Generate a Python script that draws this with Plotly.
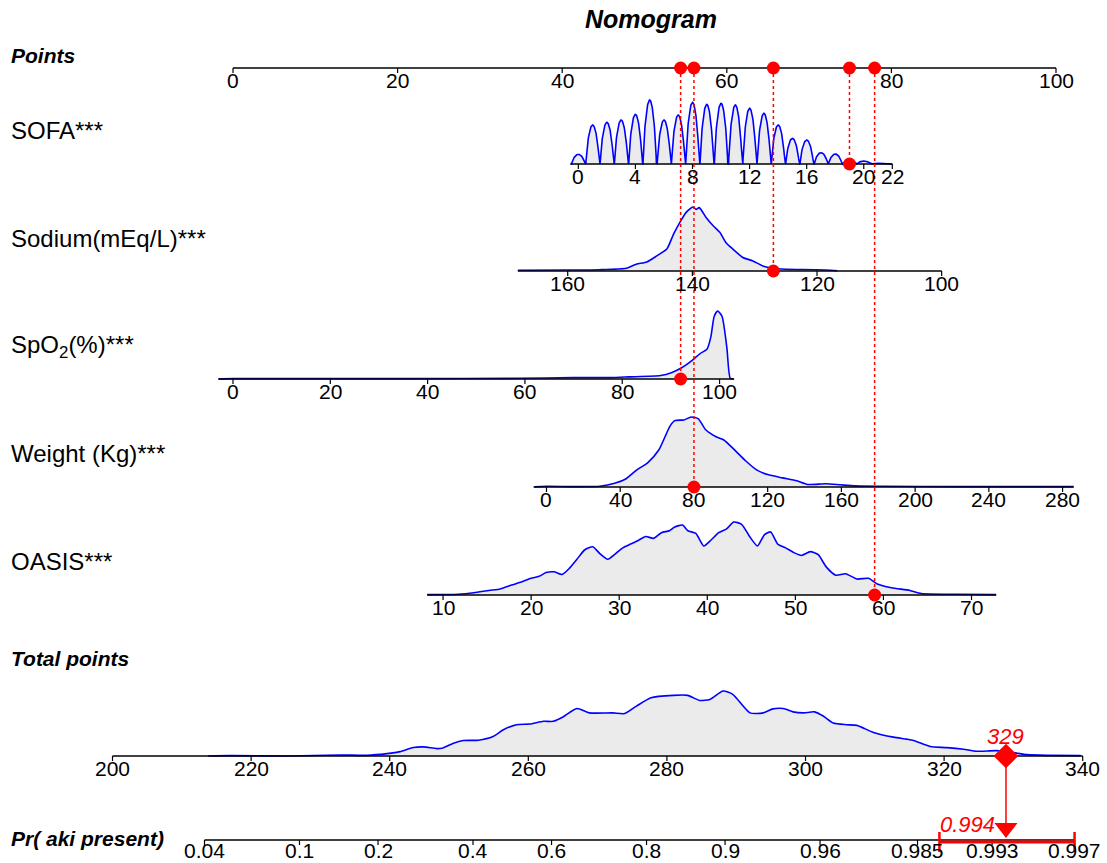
import numpy as np
import plotly.graph_objects as go

# ---------------- data ----------------
points_ticks = [0, 20, 40, 60, 80, 100]

sofa_levels = list(range(0, 22))
sofa_freq = [29, 117, 125, 132, 149, 192, 132, 147, 185, 179, 182, 177, 167, 152,
             117, 77, 72, 34, 30, 12, 9, 2]
sofa_ticks = [0, 4, 8, 12, 16, 20, 22]

sodium_x = [168, 160, 155, 150.6, 149, 147.3, 145.7, 144.1, 143, 142, 141, 139.9,
            139.4, 138.9, 137.8, 136.7, 135.6, 134.6, 133.5, 131.9, 130.3, 128.7,
            127.1, 125, 120, 116.7]
sodium_d = [0.7, 1, 1.3, 2.7, 6.7, 9, 15, 21.7, 36.7, 48, 58, 63.3, 61, 62.7, 53, 45,
            38.3, 28, 21.7, 13.3, 10, 5, 2.7, 1.7, 1.3, 0.3]
sodium_ticks = [160, 140, 120, 100]

spo2_x = [-3, 0, 37, 59, 70, 77.6, 81.3, 87.9, 90.1, 92.3, 94.5, 96, 97.4, 98.2,
          98.9, 99.6, 100.5, 101.5, 102.2, 102.9]
spo2_d = [0, 1, 1, 2, 4, 4, 6, 10, 18, 33, 55, 73, 85, 120, 180, 195, 180, 90, 2, 0]
spo2_ticks = [0, 20, 40, 60, 80, 100]

weight_x = [-6.5, 0, 15, 29, 37, 43, 49, 55, 61, 67, 69.6, 74.5, 78.5, 82.4, 86.4,
            92.3, 96.2, 102, 108, 114, 120, 128, 135.8, 141.7, 151.6, 159.5, 167.4,
            183, 222.7, 286]
weight_d = [0.3, 2, 1, 2, 10, 22, 47, 67, 102, 167, 182, 184, 192, 187, 157, 137,
            129, 102, 72, 47, 34, 25, 17, 7, 9, 6, 3, 2, 1, 1]
weight_ticks = [0, 40, 80, 120, 160, 200, 240, 280]

oasis_x = [8.2, 11.7, 13.5, 15.2, 16.5, 17.8, 19.1, 20, 20.9, 21.7, 22.6, 23.5, 24.3,
           25.2, 26.1, 27, 27.8, 28.7, 29.6, 30.4, 31.3, 32.2, 33, 33.9, 34.8, 35.7,
           36.3, 37.2, 37.8, 38.7, 39.6, 40.4, 41.3, 42.2, 43, 43.9, 44.8, 45.7,
           46.5, 47.2, 48, 48.9, 49.8, 50.7, 51.7, 52.6, 53.5, 54.6, 55.7, 57, 58.3,
           59.3, 60.9, 63, 64.3, 68.3, 72.8]
oasis_d = [1, 2, 6, 12, 16, 26, 36, 44, 49, 59, 61, 54, 69, 94, 119, 127, 109, 94,
           109, 124, 134, 144, 154, 149, 164, 169, 179, 184, 169, 162, 129, 144, 164,
           174, 192, 186, 154, 129, 159, 166, 134, 124, 112, 104, 114, 106, 74, 52,
           56, 42, 44, 29, 19, 12, 4, 2, 1]
oasis_ticks = [10, 20, 30, 40, 50, 60, 70]

total_x = [213.8, 217, 225.6, 232.8, 236.7, 239.6, 241.5, 243.4, 244.9, 246.8, 247.7,
           249.2, 250.6, 252.8, 254.9, 256.4, 258.3, 260.2, 262.2, 263.6, 265, 267,
           268.8, 272.2, 273.9, 275.6, 277.7, 280.9, 283, 284.7, 286.2, 288.1, 289.5,
           292, 293.9, 295.3, 296.8, 298.2, 299.7, 301.3, 302.6, 304, 305.9, 307.4,
           309.8, 312.7, 314.6, 315.6, 318, 320.4, 322.8, 324.7, 327.6, 330, 332,
           334.8, 339.7]
total_d = [0, 1, 0, 3, 2, 7, 13, 25, 27, 22, 24, 38, 46, 47, 58, 78, 93, 95, 103, 103,
           116, 141, 128, 128, 126, 148, 173, 180, 180, 165, 168, 193, 183, 128, 128,
           140, 141, 131, 128, 131, 118, 98, 93, 91, 70, 56, 50, 46, 28, 25, 20, 14,
           16, 10, 4, 2, 1]
total_ticks = [200, 220, 240, 260, 280, 300, 320, 340]

prob_ticks = [0.04, 0.1, 0.2, 0.4, 0.6, 0.8, 0.9, 0.96, 0.985, 0.993, 0.997]
prob_ci = [0.988, 0.997]

# patient values
patient = {"SOFA": 19, "Sodium": 127, "SpO2": 92, "Weight": 80, "OASIS": 59}

# model scales: points = a + b * value
scales = {
    "SOFA": (41.96, 1.7341),
    "Sodium": (40.67 + 160 * 0.7573, -0.7573),
    "SpO2": (0.0, 0.5912),
    "Weight": (38.09, 0.22396),
    "OASIS": (14.82, 1.0702),
}
total_scale = (-14.64 - 200 * 0.84204, 0.84204)   # total points -> points axis
logit_b0, logit_b1 = -18.44, 0.07156                # logit(p) = b0 + b1*total

# ---------------- layout constants ----------------
PX_PER_PT = 8.23
X0_PX = 233.0
W, H = 1107, 863
FONT = "Liberation Sans, Arial, Helvetica, sans-serif"
TICK_SIZE = 21

rows = {
    "SOFA": dict(label="SOFA***", ly=130, base=164, hmax=64, line=(-0.55, 22),
                 ticks=sofa_ticks),
    "Sodium": dict(label="Sodium(mEq/L)***", ly=238, base=271, hmax=64,
                   line=(168, 100), ticks=sodium_ticks),
    "SpO2": dict(label="SpO<sub>2</sub>(%)***", ly=346, base=379, hmax=68,
                 line=(-3, 103), ticks=spo2_ticks),
    "Weight": dict(label="Weight (Kg)***", ly=453, base=487, hmax=70,
                   line=(-7, 286), ticks=weight_ticks),
    "OASIS": dict(label="OASIS***", ly=561, base=595, hmax=73, line=(8.2, 72.8),
                  ticks=oasis_ticks),
}
POINTS_Y = 68
TOTAL_Y = 756
TOTAL_H = 65
PR_Y = 840


def px2pt(px):
    return (px - X0_PX) / PX_PER_PT


def var_pts(name, v):
    a, b = scales[name]
    return a + b * np.asarray(v, dtype=float)


def tot_pts(t):
    a, b = total_scale
    return a + b * np.asarray(t, dtype=float)


def prob_total(p):
    p = np.asarray(p, dtype=float)
    return (np.log(p / (1 - p)) - logit_b0) / logit_b1


fig = go.Figure()
ann = []


def add_axis(xs_line, ticks_x, tick_labels, base, tick_len=5, size=TICK_SIZE, off=0):
    fig.add_trace(go.Scatter(x=list(xs_line), y=[base, base], mode="lines",
                             line=dict(color="black", width=1.3),
                             hoverinfo="skip"))
    tx, ty = [], []
    for x in ticks_x:
        tx += [x, x, None]
        ty += [base, base + tick_len, None]
    fig.add_trace(go.Scatter(x=tx, y=ty, mode="lines",
                             line=dict(color="black", width=1.2),
                             hoverinfo="skip"))
    for x, lab in zip(ticks_x, tick_labels):
        ann.append(dict(x=x, y=base + off, text=lab, showarrow=False,
                        xanchor="center", yanchor="top", borderpad=0,
                        font=dict(family=FONT, size=size, color="black")))


def add_density(xs, hs, base, hmax, shape="spline"):
    hs = np.asarray(hs, dtype=float)
    hs = hs / hs.max() * hmax
    xs = np.asarray(xs, dtype=float)
    fig.add_trace(go.Scatter(x=[xs.min(), xs.max()], y=[base, base], mode="lines",
                             line=dict(color="rgba(0,0,0,0)", width=0),
                             hoverinfo="skip"))
    fig.add_trace(go.Scatter(x=xs, y=base - hs, mode="lines", fill="tonexty",
                             fillcolor="#ebebeb",
                             line=dict(color="#0000ff", width=1.6, shape=shape,
                                       smoothing=0.6),
                             hoverinfo="skip"))


# densities
# SOFA: integer-valued variable drawn as arch-shaped kernels of the read frequencies
sofa_grid = np.linspace(-0.55, 22, 1200)
sofa_curve = np.zeros_like(sofa_grid)
for lv, f in zip(sofa_levels, sofa_freq):
    u = (sofa_grid - lv) / 0.47
    sofa_curve += f * np.clip(1 - u ** 2, 0, None) ** 0.8
add_density(var_pts("SOFA", sofa_grid), sofa_curve, rows["SOFA"]["base"],
            rows["SOFA"]["hmax"], shape="linear")
add_density(var_pts("Sodium", sodium_x), sodium_d, rows["Sodium"]["base"],
            rows["Sodium"]["hmax"])
add_density(var_pts("SpO2", spo2_x), spo2_d, rows["SpO2"]["base"], rows["SpO2"]["hmax"])
add_density(var_pts("Weight", weight_x), weight_d, rows["Weight"]["base"],
            rows["Weight"]["hmax"])
add_density(var_pts("OASIS", oasis_x), oasis_d, rows["OASIS"]["base"],
            rows["OASIS"]["hmax"])
add_density(tot_pts(total_x), total_d, TOTAL_Y, TOTAL_H)

# axes
add_axis([0, 100], points_ticks, [str(t) for t in points_ticks], POINTS_Y)
for name, r in rows.items():
    add_axis(var_pts(name, r["line"]), var_pts(name, r["ticks"]),
             [str(t) for t in r["ticks"]], r["base"])
add_axis(tot_pts([total_ticks[0], total_ticks[-1]]), tot_pts(total_ticks),
         [str(t) for t in total_ticks], TOTAL_Y)
pr_x = tot_pts(prob_total(prob_ticks))
add_axis([pr_x[0], pr_x[-1]], pr_x, [str(p) for p in prob_ticks], PR_Y, off=-2)

# row labels
lab_x = px2pt(10)
for name, r in rows.items():
    ann.append(dict(x=lab_x, y=r["ly"], text=r["label"], showarrow=False,
                    xanchor="left", yanchor="middle", borderpad=0,
                    font=dict(family=FONT, size=24, color="black")))
for txt, yy in [("Points", 55), ("Total points", 658), ("Pr( aki present)", 838)]:
    ann.append(dict(x=lab_x, y=yy, text="<b><i>" + txt + "</i></b>", showarrow=False,
                    xanchor="left", yanchor="middle", borderpad=0,
                    font=dict(family=FONT, size=21, color="black")))
ann.append(dict(x=px2pt(651), y=19, text="<b><i>Nomogram</i></b>", showarrow=False,
                xanchor="center", yanchor="middle",
                font=dict(family=FONT, size=25, color="black")))

# patient projections
pt_vals = {k: float(var_pts(k, v)) for k, v in patient.items()}
lx, ly = [], []
for k, p in pt_vals.items():
    lx += [p, p, None]
    ly += [POINTS_Y, rows[k]["base"], None]
fig.add_trace(go.Scatter(x=lx, y=ly, mode="lines",
                         line=dict(color="red", width=1.5, dash="dot"),
                         hoverinfo="skip"))
fig.add_trace(go.Scatter(x=list(pt_vals.values()) * 2,
                         y=[POINTS_Y] * 5 + [rows[k]["base"] for k in pt_vals],
                         mode="markers", marker=dict(color="red", size=13),
                         hoverinfo="skip"))

total = sum(pt_vals.values())
prob = 1 / (1 + np.exp(-(logit_b0 + logit_b1 * total)))
tx = float(tot_pts(total))
TRI_Y = PR_Y - 12
fig.add_trace(go.Scatter(x=[tx, tx], y=[TOTAL_Y, TRI_Y], mode="lines",
                         line=dict(color="red", width=1.5), hoverinfo="skip"))
fig.add_trace(go.Scatter(x=[tx], y=[TOTAL_Y], mode="markers",
                         marker=dict(color="red", symbol="diamond", size=19),
                         hoverinfo="skip"))
fig.add_trace(go.Scatter(x=[tx], y=[TRI_Y], mode="markers",
                         marker=dict(color="red", symbol="triangle-down", size=20),
                         hoverinfo="skip"))
ci_x = tot_pts(prob_total(prob_ci))
fig.add_trace(go.Scatter(x=[ci_x[0], ci_x[1]], y=[PR_Y + 2, PR_Y + 2], mode="lines",
                         line=dict(color="red", width=3), hoverinfo="skip"))
fig.add_trace(go.Scatter(x=[ci_x[0], ci_x[0], None, ci_x[1], ci_x[1]],
                         y=[PR_Y - 8, PR_Y + 12, None, PR_Y - 8, PR_Y + 12],
                         mode="lines", line=dict(color="red", width=2.5),
                         hoverinfo="skip"))
ann.append(dict(x=tx, y=TOTAL_Y - 6, text="<i>%d</i>" % round(total), showarrow=False,
                xanchor="center", yanchor="bottom", borderpad=0,
                font=dict(family=FONT, size=22, color="red")))
ann.append(dict(x=tx - 1.2, y=PR_Y - 16, text="<i>%.3f</i>" % prob, showarrow=False,
                xanchor="right", yanchor="middle", borderpad=0,
                font=dict(family=FONT, size=22, color="red")))

fig.update_layout(
    width=W, height=H, margin=dict(l=0, r=0, t=0, b=0),
    paper_bgcolor="white", plot_bgcolor="white", showlegend=False,
    xaxis=dict(range=[px2pt(0), px2pt(W)], visible=False, fixedrange=True),
    yaxis=dict(range=[H, 0], visible=False, fixedrange=True),
    annotations=ann,
)
fig.write_html("out.html", config={"displayModeBar": False},
               post_script="document.body.style.margin='0px';")
